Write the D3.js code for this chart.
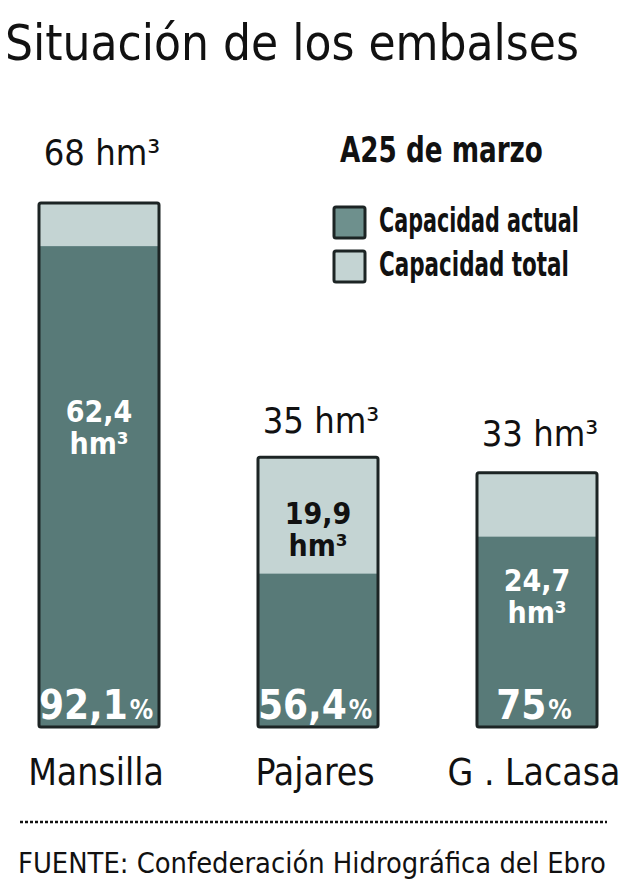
<!DOCTYPE html>
<html>
<head>
<meta charset="utf-8">
<script src="https://cdn.jsdelivr.net/npm/d3@7"></script>
<style>
  html, body { margin: 0; padding: 0; background: #fff; }
  svg { display: block; }
  text { font-family: 'Liberation Sans Narrow', 'DejaVu Sans Condensed', 'Roboto', sans-serif; }
</style>
</head>
<body>
<script>
// ---- data ----
const categories = ["Mansilla", "Pajares", "G . Lacasa"];
const totalCapacity = [68, 35, 33];          // hm³
const currentVolume = [62.4, 19.9, 24.7];    // hm³
const percentFull = ["92,1", "56,4", "75"];  // %
const totalLabels = ["68 hm³", "35 hm³", "33 hm³"];
const volumeLabels = ["62,4", "19,9", "24,7"];
const legendItems = ["Capacidad actual", "Capacidad total"];
const title = "Situación de los embalses";
const dateNote = "A25 de marzo";
const source = "FUENTE: Confederación Hidrográfica del Ebro";

// ---- layout (not data) ----
const W = 624, H = 891;
const DARK = "#587a78", LIGHT = "#c4d4d3", LEG_DARK = "#6e908d", EDGE = "#1c2424";
const totalLabelGap = [38, 24, 27];
const volumeLabelFrac = [0.57, 0.73, 0.51];

const rows = categories.map((c, i) => ({
  cat: c, total: totalCapacity[i], current: currentVolume[i], pct: percentFull[i],
  totalLabel: totalLabels[i], volLabel: volumeLabels[i], i
}));

const svg = d3.select("body").append("svg").attr("width", W).attr("height", H);

// shrink a text's font size so its natural width does not exceed `target`
function fit(sel, target, size) {
  sel.each(function () {
    const t = d3.select(this);
    t.attr("font-size", size);
    const w = this.getComputedTextLength();
    if (w > target) t.attr("font-size", (size * target / w).toFixed(2));
  });
  return sel;
}
// condense a text horizontally (keeps its height) so it spans `target` px from x0
function condense(sel, x0, target) {
  sel.each(function () {
    const w = this.getComputedTextLength();
    if (w > target) {
      const s = target / w;
      d3.select(this).attr("transform", `translate(${x0},0) scale(${s.toFixed(4)},1) translate(${-x0},0)`);
    }
  });
  return sel;
}

const x = d3.scaleBand().domain(categories).range([39, 597]).paddingInner(0.452).paddingOuter(0);
const y = d3.scaleLinear().domain([0, 68]).range([727, 203]);

// title
fit(svg.append("text").attr("x", 5).attr("y", 60).attr("fill", "#111").text(title), 574, 54);

// date note
condense(svg.append("text").attr("x", 340).attr("y", 162).attr("font-size", 35)
  .attr("font-weight", 600).attr("fill", "#111").text(dateNote), 340, 203);

// legend
const leg = svg.append("g");
const legFills = [LEG_DARK, LIGHT];
const legRows = [207, 251];
leg.selectAll("rect").data(legendItems).join("rect")
  .attr("x", 334).attr("y", (d, i) => legRows[i])
  .attr("width", 31).attr("height", 31).attr("rx", 2)
  .attr("fill", (d, i) => legFills[i]).attr("stroke", EDGE).attr("stroke-width", 3);
leg.selectAll("text").data(legendItems).join("text")
  .attr("x", 379).attr("y", (d, i) => legRows[i] + 25)
  .attr("font-size", 34).attr("font-weight", 700).attr("fill", "#111")
  .text(d => d)
  .each(function (d, i) { condense(d3.select(this), 379, i === 0 ? 200 : 190); });

// bars
const g = svg.append("g");
const bar = g.selectAll("g.bar").data(rows).join("g").attr("class", "bar");

bar.append("rect")
  .attr("x", d => x(d.cat)).attr("y", d => y(d.total))
  .attr("width", x.bandwidth()).attr("height", d => y(0) - y(d.total))
  .attr("fill", LIGHT);
bar.append("rect")
  .attr("x", d => x(d.cat)).attr("y", d => y(d.current))
  .attr("width", x.bandwidth()).attr("height", d => y(0) - y(d.current))
  .attr("fill", DARK);
bar.append("rect")
  .attr("x", d => x(d.cat)).attr("y", d => y(d.total))
  .attr("width", x.bandwidth()).attr("height", d => y(0) - y(d.total))
  .attr("rx", 2)
  .attr("fill", "none").attr("stroke", EDGE).attr("stroke-width", 3);

// total labels
bar.append("text")
  .attr("x", d => x(d.cat) + x.bandwidth() / 2 + 3)
  .attr("y", d => y(d.total) - totalLabelGap[d.i])
  .attr("text-anchor", "middle").attr("font-size", 36).attr("fill", "#111")
  .text(d => d.totalLabel);

// volume labels
const vl = bar.append("text")
  .attr("text-anchor", "middle").attr("font-size", 30).attr("font-weight", 600)
  .attr("fill", d => (d.total * volumeLabelFrac[d.i] > d.current) ? "#111" : "#fff");
vl.append("tspan")
  .attr("x", d => x(d.cat) + x.bandwidth() / 2)
  .attr("y", d => y(d.total * volumeLabelFrac[d.i]) - 6)
  .text(d => d.volLabel);
vl.append("tspan")
  .attr("x", d => x(d.cat) + x.bandwidth() / 2)
  .attr("y", d => y(d.total * volumeLabelFrac[d.i]) + 26)
  .text("hm³");

// percent labels
const pl = bar.append("text")
  .attr("x", d => x(d.cat) + x.bandwidth() / 2 - 3)
  .attr("y", y(0) - 8)
  .attr("text-anchor", "middle").attr("font-weight", 700).attr("fill", "#fff");
pl.append("tspan").attr("font-size", 40).text(d => d.pct);
pl.append("tspan").attr("font-size", 26).attr("dx", 2).text("%");

// category labels
bar.append("text")
  .attr("x", d => x(d.cat) + x.bandwidth() / 2 - 3)
  .attr("y", 785)
  .attr("text-anchor", "middle").attr("font-size", 37).attr("fill", "#111")
  .text(d => d.cat);

// dashed rule
svg.append("line").attr("x1", 20).attr("x2", 607).attr("y1", 822).attr("y2", 822)
  .attr("stroke", "#111").attr("stroke-width", 2.5).attr("stroke-dasharray", "3,2");

// source
fit(svg.append("text").attr("x", 18).attr("y", 873).attr("fill", "#111").text(source), 588, 34);
</script>
</body>
</html>
